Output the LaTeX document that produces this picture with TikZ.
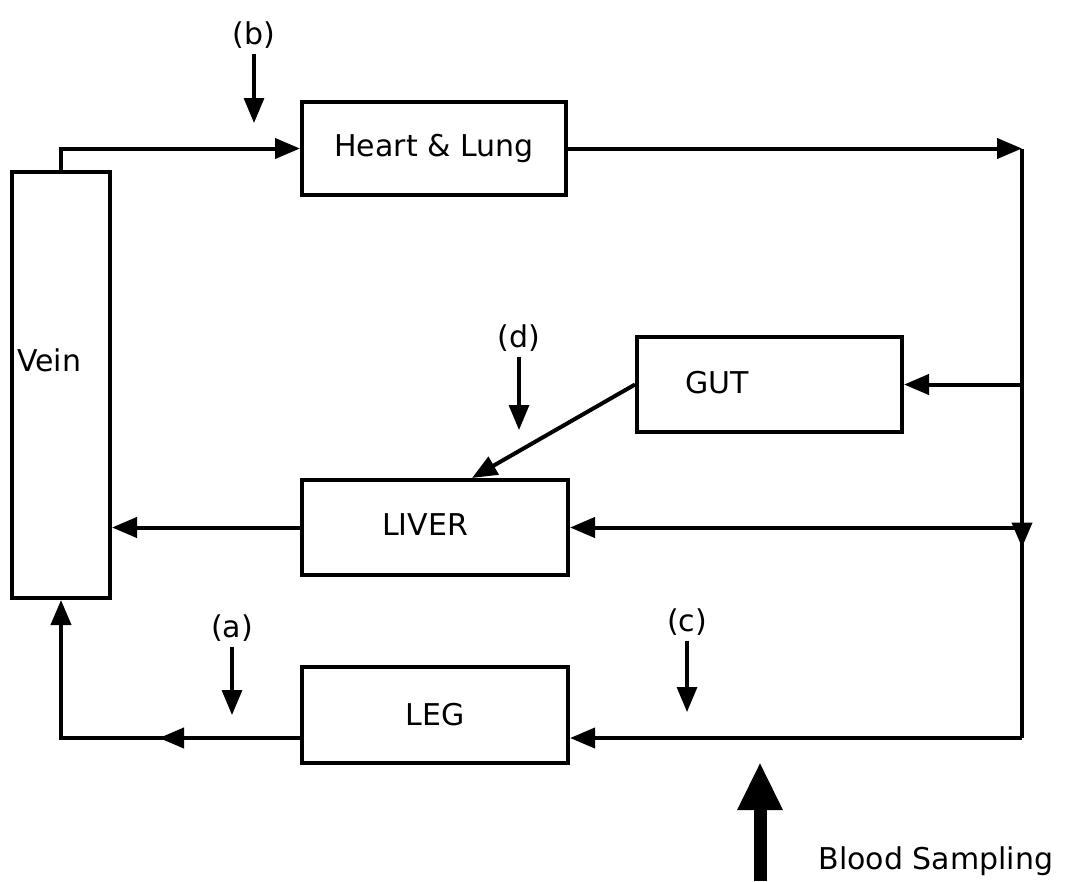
\documentclass[tikz,border=0pt]{standalone}
\usepackage{fontspec}
\setmainfont{DejaVu Sans}
\usetikzlibrary{arrows.meta, decorations.markings}

\begin{document}
\begin{tikzpicture}[x=1pt, y=-1pt, >={Triangle[length=25pt,width=20pt]}, line width=4pt, font=\fontsize{30}{36}\selectfont,
    organ/.style={draw, minimum width=266pt, minimum height=95pt, inner sep=0pt},
    midarrow/.style={postaction={decorate}, decoration={markings, mark=at position #1 with {\arrow{>}}}},
    probe/.style={->, line width=3.2pt}]
    \useasboundingbox (0,0) rectangle (1067,881);

    % Vein
    \node[organ, minimum width=98pt, minimum height=426pt] (vein) at (61,385) {};
    \node[anchor=west, inner sep=0pt] (veintext) at (15,360) {Vein};

    % Organs
    \node[organ, minimum width=264pt, minimum height=93pt] (heart) at (434,148.5) {Heart \& Lung};
    \node[organ, minimum width=265pt] (gut) at (769.5,384.5) {};
    \node (guttext) at (717,383) {GUT};
    \node[organ] (liver) at (435,527.5) {};
    \node (livertext) at (425,525) {LIVER};
    \node[organ, minimum height=96pt] (leg) at (435,715) {LEG};

    % Right hand side
    \coordinate (ne) at (1022,148.5);
    \coordinate (se) at (1022,738);

    % Blood flow
    \draw[->] (vein.north) |- (heart.west);
    \draw[->] (heart.east) -- (ne);
    \draw[midarrow=399pt] (ne) -- (se);
    \draw[->] (ne |- gut.east) -- (gut.east);
    \draw[->] (ne |- liver.east) -- (liver.east);
    \draw[->] (gut.west) -- ([xshift=37pt]liver.north);
    \draw[->] (liver.west) -- (vein.east |- liver.west);
    \draw[->] (se) -- (se -| leg.east);
    \draw[->, midarrow=141pt] (leg.west |- se) -| (vein.south);

    % Sampling points
    \node (la) at (232,628) {(a)};
    \node (lb) at (254,35) {(b)};
    \node (lc) at (687,622) {(c)};
    \node (ld) at (519,338) {(d)};
    \coordinate (pa) at (232,715);
    \coordinate (pb) at (254,123);
    \coordinate (pc) at (687,712);
    \coordinate (pd) at (519,430);
    \draw[probe] (la) -- (pa);
    \draw[probe] (lb) -- (pb);
    \draw[probe] (lc) -- (pc);
    \draw[probe] (ld) -- (pd);

    % Blood sampling
    \coordinate (bs) at (760,881);
    \coordinate (bstip) at (760,762);
    \draw[line width=13pt, -{Triangle[length=48pt,width=42pt]}] (bs) -- (bstip);
    \node (blood) at (936,861) {Blood Sampling};
\end{tikzpicture}
\end{document}
